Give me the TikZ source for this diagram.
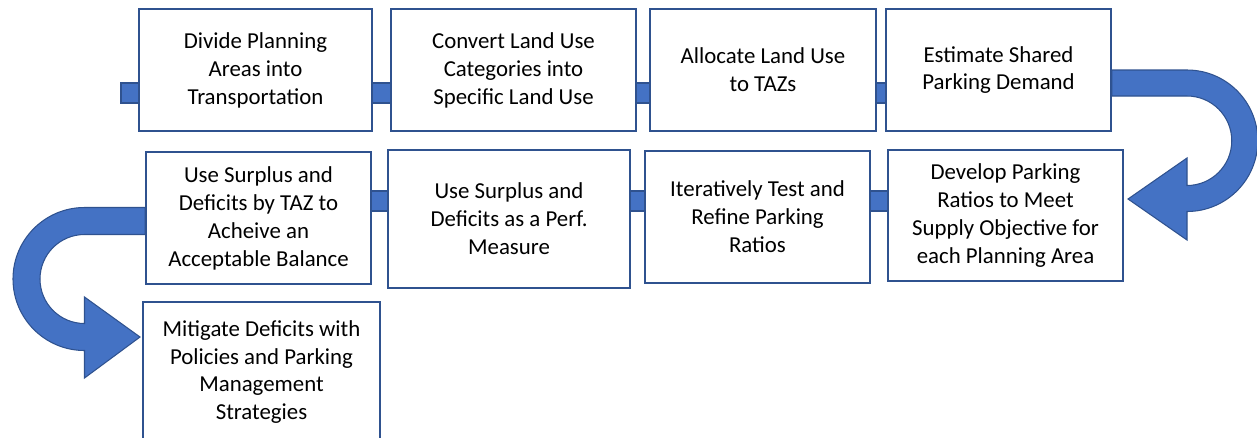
\documentclass[tikz,border=0pt]{standalone}
\usepackage{fontspec}
\setmainfont{Carlito}
\usetikzlibrary{positioning}

\definecolor{stepline}{HTML}{2F528F}
\definecolor{stepfill}{HTML}{4472C4}

\begin{document}
\begin{tikzpicture}[x=0.02cm, y=0.02cm,
  font=\fontsize{13}{15.9}\selectfont,
  stepbox/.style={draw=stepline, line width=1.1pt, fill=white, align=center, inner sep=2pt,
    minimum height=2.44cm},
  link/.style={draw=stepline, line width=0.6pt, fill=stepfill},
  uturn/.style={draw=stepline, line width=0.6pt, fill=stepfill}]

\clip (0,0) rectangle (1257,-437);

% ============ ROW 1 ============
\coordinate (start) at (121,-93);
\node[stepbox, minimum width=4.66cm] (divide) at (255.5,-70)
  {Divide Planning\\Areas into\\Transportation};
\node[stepbox, minimum width=4.9cm] (convert) at (513.5,-70)
  {Convert Land Use\\Categories into\\Specific Land Use};
\node[stepbox, minimum width=4.52cm] (allocate) at (763,-70)
  {Allocate Land Use\\to TAZs};
\node[stepbox, minimum width=4.5cm] (estimate) at (998.5,-70)
  {Estimate Shared\\Parking Demand};

% ============ ROW 2 ============
\node[stepbox, minimum width=4.7cm, minimum height=2.62cm] (develop) at (1005.5,-215.5)
  {Develop Parking\\Ratios to Meet\\Supply Objective for\\each Planning Area};
\node[stepbox, minimum width=4.5cm, minimum height=2.64cm] (iterate) at (757.5,-217)
  {Iteratively Test and\\Refine Parking\\Ratios};
\node[stepbox, minimum width=4.84cm, minimum height=2.76cm] (perf) at (509,-219)
  {Use Surplus and\\Deficits as a Perf.\\Measure};
\node[stepbox, minimum width=4.5cm, minimum height=2.64cm] (balance) at (258.5,-218)
  {Use Surplus and\\Deficits by TAZ to\\Acheive an\\Acceptable Balance};

% ============ ROW 3 ============
\node[stepbox, minimum width=4.74cm, minimum height=2.8cm] (mitigate) at (261.5,-372)
  {Mitigate Deficits with\\Policies and Parking\\Management\\Strategies};

% Short bars between the boxes of each row
\draw[link] (start |- 0,-83) rectangle (divide.west |- 0,-103);
\foreach \a/\b in {divide/convert, convert/allocate, allocate/estimate}
  \draw[link] (\a.east |- 0,-83) rectangle (\b.west |- 0,-103);
\foreach \a/\b in {balance/perf, perf/iterate, iterate/develop}
  \draw[link] (\a.east |- 0,-191) rectangle (\b.west |- 0,-211);

% U-turn from the end of row 1 down to row 2
\draw[uturn] (estimate.east |- 0,-70) -- (1187,-70)
  arc[start angle=90, end angle=-90, radius=70.75]
  -- (1187,-240) -- (1128,-199) -- (1187,-158) -- (1187,-185.5)
  arc[start angle=-90, end angle=90, radius=44.75]
  -- (estimate.east |- 0,-96) -- cycle;

% U-turn from the end of row 2 down to row 3
\draw[uturn] (balance.west |- 0,-207.5) -- (84.5,-207.5)
  arc[start angle=90, end angle=270, radius=71.5]
  -- (84.5,-378) -- (140,-337) -- (84.5,-297) -- (84.5,-323.5)
  arc[start angle=270, end angle=90, radius=44.5]
  -- (balance.west |- 0,-234.5) -- cycle;

\end{tikzpicture}
\end{document}
